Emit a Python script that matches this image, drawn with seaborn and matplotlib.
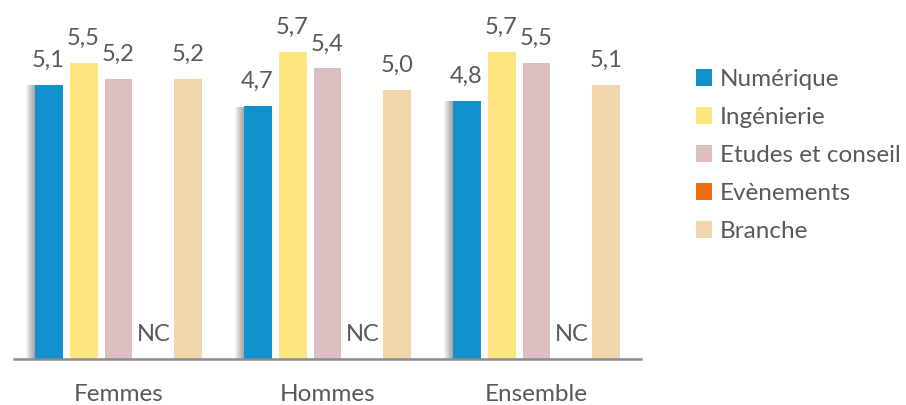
import numpy as np
import pandas as pd
import matplotlib
matplotlib.use('Agg')
import matplotlib.pyplot as plt
import matplotlib.patheffects as pe
import seaborn as sns

groupes = ['Femmes', 'Hommes', 'Ensemble']
secteurs = ['Numérique', 'Ingénierie', 'Etudes et conseil', 'Evènements', 'Branche']
numerique = [5.1, 4.7, 4.8]
ingenierie = [5.5, 5.7, 5.7]
etudes = [5.2, 5.4, 5.5]
evenements = [np.nan, np.nan, np.nan]   # NC
branche = [5.2, 5.0, 5.1]
couleurs = ['#1391CF', '#FFE57F', '#DCBDC0', '#EC6F14', '#F1D6AB']

valeurs = [numerique, ingenierie, etudes, evenements, branche]
rows = []
for s, vals in zip(secteurs, valeurs):
    for g, v in zip(groupes, vals):
        rows.append({'groupe': g, 'secteur': s, 'valeur': v})
df = pd.DataFrame(rows)
df['hauteur'] = df['valeur'].fillna(0)

sns.set_style('white')
plt.rcParams['font.family'] = ['Lato', 'DejaVu Sans']
gris = '#595959'

fig = plt.figure(figsize=(9.06, 4.05), dpi=100)
ax = fig.add_axes([14 / 906, 46 / 405, 627 / 906, 359 / 405])

sns.barplot(data=df, x='groupe', y='hauteur', hue='secteur', hue_order=secteurs,
            order=groupes, palette=couleurs, saturation=1, width=0.837, gap=0.2,
            linewidth=0, ax=ax)

ax.set_xlim(-0.5, 2.5)
ax.set_ylim(0, 6.67)

# soft shadow on the left of the Numérique bars
shadow = [pe.SimplePatchShadow(offset=(-d * 0.72, -0.5), shadow_rgbFace='black', alpha=0.045)
          for d in range(1, 10)]
for bar in ax.containers[0]:
    bar.set_path_effects(shadow + [pe.Normal()])

for cont, vals in zip(ax.containers, valeurs):
    labels = ['NC' if np.isnan(v) else f'{v:.1f}'.replace('.', ',') for v in vals]
    ax.bar_label(cont, labels=labels, padding=10, color=gris, fontsize=17)

for side in ['top', 'right', 'left']:
    ax.spines[side].set_visible(False)
ax.spines['bottom'].set_color('#8C8C8C')
ax.spines['bottom'].set_linewidth(1.8)
ax.set_yticks([])
ax.set_xlabel('')
ax.set_ylabel('')
ax.set_xticks([0, 1, 2])
ax.set_xticklabels(groupes, fontsize=17.5, color=gris)
ax.set_xticks([-0.5, 0.5, 1.5, 2.5], minor=True)
ax.tick_params(axis='x', which='major', length=0, pad=18)
ax.tick_params(axis='x', which='minor', length=7, width=1.8, color='#8C8C8C', direction='out')

handles, labels = ax.get_legend_handles_labels()
ax.legend(handles, labels, loc='upper left', bbox_to_anchor=(696 / 906, 1 - 69 / 405),
          bbox_transform=fig.transFigure, frameon=False, fontsize=17.5,
          handlelength=0.66, handleheight=0.66, handletextpad=0.32,
          labelspacing=0.7, borderpad=0, borderaxespad=0, labelcolor=gris)

fig.savefig('out.png', dpi=100)
